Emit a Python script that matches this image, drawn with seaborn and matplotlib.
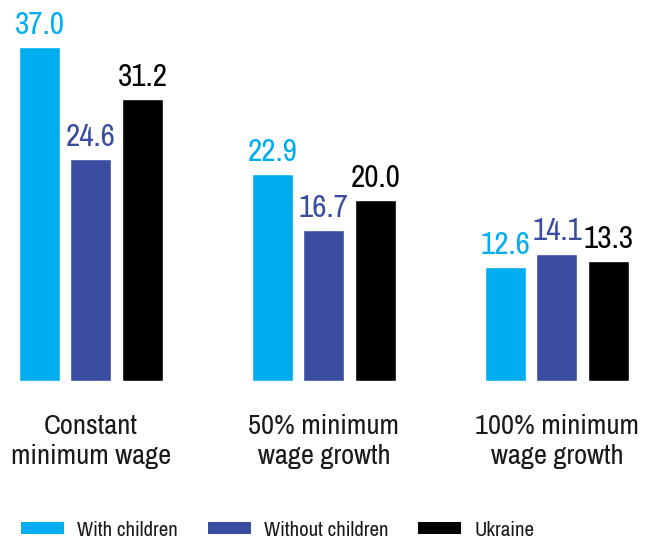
import matplotlib
matplotlib.use("Agg")
import matplotlib.pyplot as plt
import seaborn as sns
import pandas as pd
from matplotlib.patches import Patch
from matplotlib import font_manager

categories = ["Constant\nminimum wage", "50% minimum\nwage growth", "100% minimum\nwage growth"]
series = ["With children", "Without children", "Ukraine"]
with_children = [37.0, 22.9, 12.6]
without_children = [24.6, 16.7, 14.1]
ukraine = [31.2, 20.0, 13.3]
colors = ["#00AEEF", "#3A4DA0", "#000000"]

sns.set_theme(style="white")
names = {f.name for f in font_manager.fontManager.ttflist}
fam = "DejaVu Sans"
for cand in ["Liberation Sans Narrow", "Archivo Narrow", "Roboto Condensed", "Barlow Semi Condensed"]:
    if cand in names:
        fam = cand
        break
plt.rcParams["font.family"] = [fam, "DejaVu Sans"]

rows = []
for s, vals in zip(series, [with_children, without_children, ukraine]):
    for c, v in zip(categories, vals):
        rows.append({"category": c, "series": s, "value": v})
df = pd.DataFrame(rows)

fig = plt.figure(figsize=(6.49, 5.40), dpi=100)
ax = fig.add_axes([0, 159 / 540, 1, 381 / 540])
sns.barplot(data=df, x="category", y="value", hue="series", hue_order=series,
            order=categories, palette=colors, width=0.663, gap=0.204,
            saturation=1, legend=False, ax=ax)

ax.set_xlim(-0.39, 2.395)
ax.set_ylim(0, 42.2)
for sp in ax.spines.values():
    sp.set_visible(False)
ax.set_yticks([])
ax.set_xlabel("")
ax.set_ylabel("")
ax.tick_params(axis="x", length=0, pad=24, labelsize=20.5, labelcolor="#1a1a1a")
for lab in ax.get_xticklabels():
    lab.set_linespacing(1.22)
    lab.set_horizontalalignment("center")
    lab.set_multialignment("center")

for cont, col in zip(ax.containers, colors):
    ax.bar_label(cont, fmt="%.1f", padding=6, color=col, fontsize=22.5)

handles = [Patch(facecolor=c, edgecolor="none", label=s) for s, c in zip(series, colors)]
fig.legend(handles=handles, loc="center left", bbox_to_anchor=(21 / 649, 10 / 540),
           ncol=3, frameon=False, fontsize=15, handlelength=2.07, handleheight=0.5,
           handletextpad=0.62, columnspacing=1.44, borderpad=0, borderaxespad=0,
           labelcolor="#1a1a1a")

fig.savefig("out.png", dpi=100)
